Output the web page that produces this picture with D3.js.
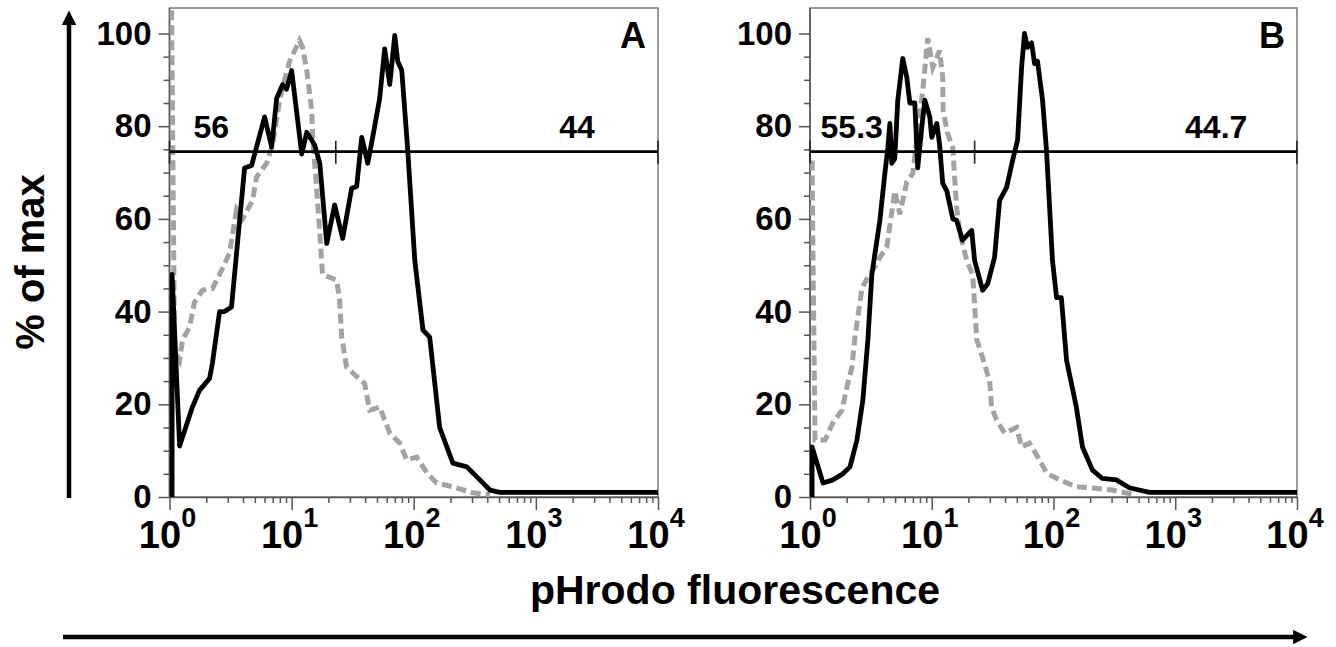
<!DOCTYPE html>
<html>
<head>
<meta charset="utf-8">
<script src="https://cdn.jsdelivr.net/npm/d3@7"></script>
<style>
  body { margin: 0; background: #fff; }
  svg { display: block; font-family: "Liberation Sans", Arial, sans-serif; font-weight: bold; }
</style>
</head>
<body>
<div id="chart"></div>
<script>
// fluorescence (linear units) and % of max
const blackA_F = [1.05, 1.05, 1.21, 1.54, 1.76, 2.13, 2.25, 2.57, 2.82, 3.22, 3.61, 4.12, 4.70, 5.16, 6.01, 6.86, 7.54, 8.44, 9.10, 10.0, 11.0, 12.1, 13.3, 15.4, 17.0, 19.4, 22.5, 26.2, 31.0, 34.1, 37.5, 42.0, 46.1, 52.6, 57.8, 63.6, 69.9, 73.9, 79.8, 89.3, 102, 119, 135, 163, 209, 272, 348, 420, 507, 10000];
const blackA_Y = [0, 48, 11, 19.4, 23, 25.6, 29, 40, 40, 41, 55, 71, 71.5, 75.5, 82, 75.5, 86, 89, 88, 92, 83, 74, 78.7, 76, 72, 54.7, 63, 55.8, 66.6, 67, 77.6, 72, 77.6, 86, 96.7, 89, 99.6, 94, 92, 74.8, 51, 36, 34.5, 15, 7.3, 6.5, 3.7, 1.5, 1, 1];

const grayA_F = [1.04, 1.10, 1.21, 1.28, 1.46, 1.60, 1.86, 2.25, 2.57, 3.10, 3.54, 3.96, 4.79, 5.16, 6.24, 6.98, 7.97, 8.77, 9.63, 11.6, 12.3, 13.3, 14.6, 14.9, 16.0, 17.0, 17.9, 23.4, 24.7, 25.7, 28.2, 34.1, 39.6, 43.6, 52.6, 57.8, 63.6, 76.8, 87.6, 106, 128, 154, 209, 305, 420];
const grayA_Y = [105, 31.7, 29.5, 34, 36.6, 42, 44.6, 45, 48, 52.6, 62, 60, 64, 69, 72, 76, 85.5, 90, 94, 98.5, 97, 92, 83.4, 77, 66.8, 57, 48, 46.8, 42.5, 34.5, 28, 26, 24.5, 18.7, 19.4, 16.6, 13.8, 11.6, 8, 8.6, 5.2, 3, 2.2, 0.9, 0.5];

const blackB_F = [1.04, 1.04, 1.28, 1.54, 1.86, 2.13, 2.43, 2.72, 2.99, 3.22, 3.75, 4.12, 4.36, 4.53, 4.70, 4.97, 5.26, 5.78, 6.24, 6.61, 7.26, 7.67, 8.28, 8.77, 9.63, 10.0, 11.0, 11.6, 12.3, 13.3, 14.9, 16.0, 17.9, 21.3, 22.5, 26.2, 28.8, 32.8, 36.1, 41.2, 46.1, 50.7, 54.7, 57.8, 61.2, 66.1, 69.9, 73.9, 81.3, 87.6, 98.1, 106, 116, 128, 154, 173, 209, 252, 328, 420, 612, 10000];
const blackB_Y = [0, 10.8, 3, 3.7, 5, 6.5, 12.3, 21, 34, 48, 59.7, 69.8, 75.4, 80.6, 72, 73, 85.6, 94.6, 90.5, 85, 85, 71, 79.7, 85.6, 82, 77.6, 80.6, 76, 67.7, 66, 60, 59.7, 55.4, 57.5, 51, 44.6, 46, 51.7, 64, 66.8, 72.6, 77, 92.7, 100, 97, 98, 93.5, 94, 85.6, 74.8, 51, 43, 43, 29.5, 19.4, 10.8, 5.8, 4, 3.7, 2, 1, 1];

const grayB_F = [1.04, 1.06, 1.10, 1.33, 1.54, 1.83, 2.01, 2.21, 2.34, 2.47, 2.67, 2.93, 3.41, 3.75, 4.28, 4.97, 5.47, 5.78, 6.24, 6.98, 8.44, 9.27, 10.2, 11.6, 12.3, 12.4, 13.5, 14.9, 15.4, 16.0, 17.0, 19.4, 21.7, 23.4, 26.2, 29.9, 31.0, 34.1, 39.6, 49.8, 54.7, 63.6, 76.8, 87.6, 112, 154, 197, 305, 461];
const grayB_Y = [72.6, 50, 12.3, 12.3, 16, 18.7, 23.7, 28, 34.5, 38.8, 45, 47, 49.6, 51.7, 54, 66, 61, 64, 68, 69.8, 87.7, 99, 92.7, 96.3, 90.5, 83.4, 78.4, 75.4, 69, 62.5, 57, 51, 48, 34, 30, 25, 19.4, 16.6, 13.8, 15, 10.8, 11.6, 8, 5.2, 3.7, 2.2, 2, 1.5, 0.5];

const yTicks = [0, 20, 40, 60, 80, 100];
const yMinor = [5, 10, 15, 25, 30, 35, 45, 50, 55, 65, 70, 75, 85, 90, 95];
const xTicks = [1, 10, 100, 1000, 10000];
const xExponents = ["0", "1", "2", "3", "4"];

const gateLevel = 74.5;
const gateA = [1, 23, 10000];
const gateB = [1, 22.5, 10000];
const gateLabelsA = ["56", "44"];
const gateLabelsB = ["55.3", "44.7"];

const W = 1336, H = 647;
const svg = d3.select("#chart").append("svg").attr("width", W).attr("height", H);

// arrow head marker
const defs = svg.append("defs");
defs.append("marker")
    .attr("id", "head")
    .attr("viewBox", "0 0 10 10")
    .attr("refX", 2).attr("refY", 5)
    .attr("markerWidth", 4).attr("markerHeight", 3.2)
    .attr("orient", "auto")
    .append("path").attr("d", "M0,0L10,5L0,10z").attr("fill", "#000");

function drawPanel(left, right, letter, black, gray, gate, gateLabels, clipId) {
    const top = 8, bottom = 497;
    const x = d3.scaleLog().domain([1, 10000]).range([left, right]);
    const y = d3.scaleLinear().domain([0, 105.5]).range([bottom, top]);

    const g = svg.append("g");

    defs.append("clipPath").attr("id", clipId)
        .append("rect").attr("x", left).attr("y", top)
        .attr("width", right - left).attr("height", bottom - top);

    // frame
    g.append("rect")
        .attr("x", left).attr("y", top)
        .attr("width", right - left).attr("height", bottom - top)
        .attr("fill", "none").attr("stroke", "#7a7a7a").attr("stroke-width", 1.5);

    // y axis
    const yAx = g.append("g").attr("transform", "translate(" + left + ",0)")
        .call(d3.axisLeft(y).tickValues(yTicks).tickSize(11).tickPadding(7).tickSizeOuter(0));
    g.append("g").attr("transform", "translate(" + left + ",0)")
        .call(d3.axisLeft(y).tickValues(yMinor).tickSize(6).tickFormat("").tickSizeOuter(0))
        .select(".domain").remove();
    yAx.select(".domain").attr("d", "M0," + bottom + "V" + top);
    yAx.selectAll("text").attr("font-size", 33).attr("font-family", "Liberation Sans, Arial").attr("font-weight", "bold").attr("fill", "#000");

    // x axis
    const minor = [];
    for (let d = 1; d < 10000; d *= 10) for (let k = 2; k < 10; k++) minor.push(d * k);
    g.append("g").attr("transform", "translate(0," + bottom + ")")
        .call(d3.axisBottom(x).tickValues(xTicks).tickSize(13).tickFormat("").tickSizeOuter(0));
    g.append("g").attr("transform", "translate(0," + bottom + ")")
        .call(d3.axisBottom(x).tickValues(minor).tickSize(6).tickFormat("").tickSizeOuter(0))
        .select(".domain").remove();
    g.selectAll(".tick line").attr("stroke", "#555").attr("stroke-width", 1.5);
    g.selectAll(".domain").attr("stroke", "#555").attr("stroke-width", 1.5);

    const lab = g.append("g");
    xTicks.forEach((v, i) => {
        const t = lab.append("text")
            .attr("x", x(v) - 2).attr("y", 548)
            .attr("text-anchor", "middle")
            .attr("font-size", 38);
        t.append("tspan").text("10");
        t.append("tspan").attr("dy", -21).attr("font-size", 27).text(xExponents[i]);
    });

    // histograms
    const line = d3.line().x(d => x(d[0])).y(d => y(d[1]));
    const plot = g.append("g").attr("clip-path", "url(#" + clipId + ")");
    plot.append("path")
        .datum(d3.zip(gray[0], gray[1]))
        .attr("d", line)
        .attr("fill", "none").attr("stroke", "#a3a3a3").attr("stroke-width", 5)
        .attr("stroke-dasharray", "10,5").attr("stroke-linejoin", "miter");
    plot.append("path")
        .datum(d3.zip(black[0], black[1]))
        .attr("d", line)
        .attr("fill", "none").attr("stroke", "#000").attr("stroke-width", 4.8)
        .attr("stroke-linejoin", "round");

    // gate
    const gy = y(gateLevel);
    g.append("line")
        .attr("x1", x(gate[0])).attr("x2", x(gate[2]))
        .attr("y1", gy).attr("y2", gy)
        .attr("stroke", "#000").attr("stroke-width", 2.8);
    gate.forEach(v => {
        g.append("line")
            .attr("x1", x(v)).attr("x2", x(v))
            .attr("y1", gy - 11).attr("y2", gy + 12)
            .attr("stroke", "#222").attr("stroke-width", 1.6);
    });
    g.append("text").attr("x", x(2.2)).attr("y", y(77.5))
        .attr("text-anchor", "middle").attr("font-size", 32).text(gateLabels[0]);
    g.append("text").attr("x", x(2170)).attr("y", y(77.5))
        .attr("text-anchor", "middle").attr("font-size", 32).text(gateLabels[1]);

    // panel letter
    g.append("text").attr("x", right - 12).attr("y", 48)
        .attr("text-anchor", "end").attr("font-size", 36).text(letter);
}

drawPanel(169.5, 658, "A", [blackA_F, blackA_Y], [grayA_F, grayA_Y], gateA, gateLabelsA, "clipA");
drawPanel(810, 1297, "B", [blackB_F, blackB_Y], [grayB_F, grayB_Y], gateB, gateLabelsB, "clipB");

// y title and arrow
svg.append("text")
    .attr("transform", "translate(44,262) rotate(-90)")
    .attr("text-anchor", "middle").attr("font-size", 40)
    .text("% of max");
svg.append("line")
    .attr("x1", 69).attr("x2", 69).attr("y1", 498).attr("y2", 22)
    .attr("stroke", "#000").attr("stroke-width", 4.5)
    .attr("marker-end", "url(#head)");

// x title and arrow
svg.append("text")
    .attr("x", 735).attr("y", 604)
    .attr("text-anchor", "middle").attr("font-size", 41)
    .text("pHrodo fluorescence");
svg.append("line")
    .attr("x1", 63).attr("x2", 1296).attr("y1", 637).attr("y2", 637)
    .attr("stroke", "#000").attr("stroke-width", 4.5)
    .attr("marker-end", "url(#head)");
</script>
</body>
</html>
